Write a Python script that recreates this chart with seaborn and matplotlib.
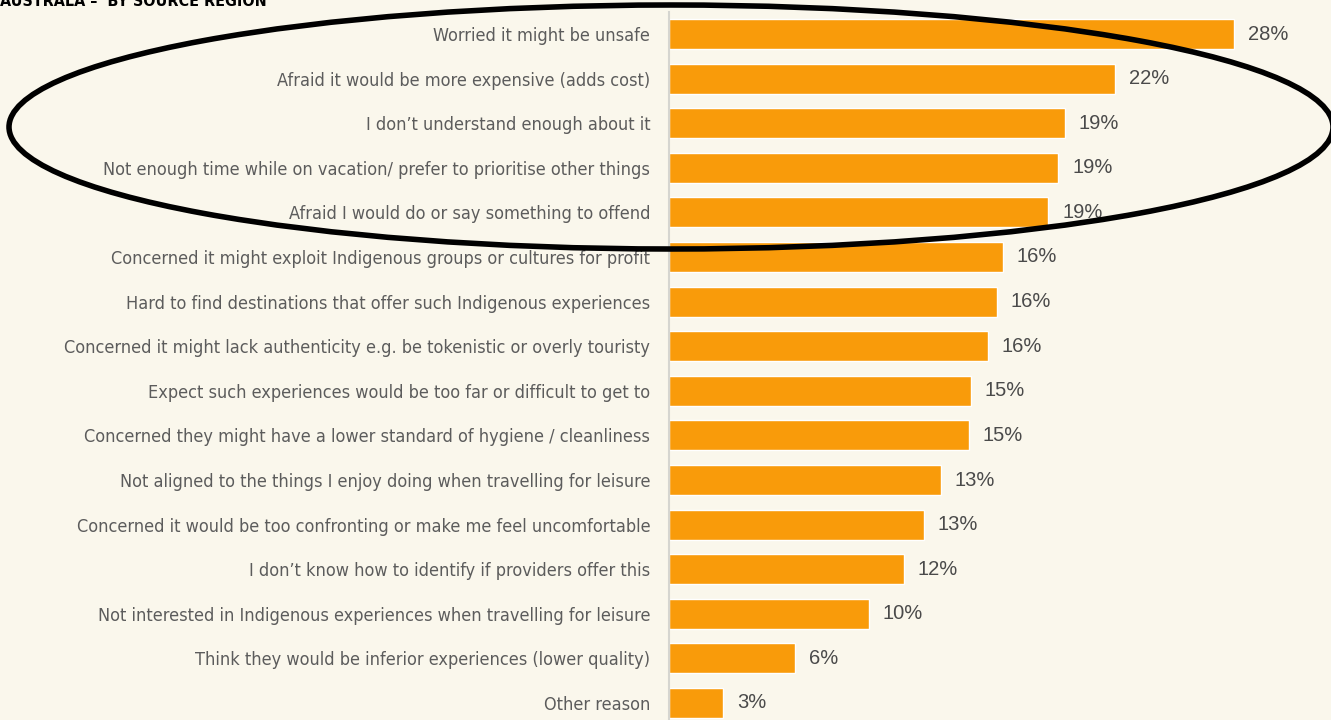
import matplotlib
matplotlib.use("Agg")
import matplotlib.pyplot as plt
import matplotlib.patches as mpatches
from matplotlib import font_manager
from matplotlib.transforms import IdentityTransform
import seaborn as sns
import pandas as pd

categories = [
    "Worried it might be unsafe",
    "Afraid it would be more expensive (adds cost)",
    "I don\u2019t understand enough about it",
    "Not enough time while on vacation/ prefer to prioritise other things",
    "Afraid I would do or say something to offend",
    "Concerned it might exploit Indigenous groups or cultures for profit",
    "Hard to find destinations that offer such Indigenous experiences",
    "Concerned it might lack authenticity e.g. be tokenistic or overly touristy",
    "Expect such experiences would be too far or difficult to get to",
    "Concerned they might have a lower standard of hygiene / cleanliness",
    "Not aligned to the things I enjoy doing when travelling for leisure",
    "Concerned it would be too confronting or make me feel uncomfortable",
    "I don\u2019t know how to identify if providers offer this",
    "Not interested in Indigenous experiences when travelling for leisure",
    "Think they would be inferior experiences (lower quality)",
    "Other reason",
]
values = [28.0, 22.1, 19.6, 19.3, 18.8, 16.55, 16.25, 15.8, 14.97, 14.87,
          13.48, 12.64, 11.65, 9.9, 6.24, 2.68]
value_labels = ["28%", "22%", "19%", "19%", "19%", "16%", "16%", "16%", "15%", "15%",
                "13%", "13%", "12%", "10%", "6%", "3%"]
title_text = "AUSTRALA \u2013  BY SOURCE REGION"

BG = "#FAF7EC"
BAR = "#F99B0A"
TXT = "#5C5C5C"

sns.set_theme(style="white")

# pick a condensed font if one is installed
names = {f.name for f in font_manager.fontManager.ttflist}
cond_files = [f for f in font_manager.fontManager.ttflist
              if f.name == "DejaVu Sans" and "ondensed" in str(f.stretch) + f.fname]
if "Liberation Sans Narrow" in names:
    LBL_FP = dict(family="Liberation Sans Narrow", size=14.5)
elif cond_files:
    LBL_FP = dict(family="DejaVu Sans", stretch="condensed", size=13.0)
else:
    LBL_FP = dict(family="DejaVu Sans", size=12.0)

plt.rcParams["font.family"] = ["DejaVu Sans"]

W, H = 1331, 720
fig = plt.figure(figsize=(W / 100, H / 100), dpi=100, facecolor=BG)

left = 669 / W
top = 1 - 11.7 / H
height = 16 * 44.6 / H
ax = fig.add_axes([left, top - height, 1 - left, height])
ax.set_facecolor(BG)

df = pd.DataFrame({"cat": categories, "val": values})
sns.barplot(data=df, x="val", y="cat", orient="h", color=BAR, width=0.67,
            saturation=1, ax=ax)
ax.set_xlim(0, (W - 669) / 20.18)
ax.set_ylim(15.5, -0.5)
ax.set_xlabel("")
ax.set_ylabel("")
ax.set_xticks([])
for s in ["top", "right", "bottom"]:
    ax.spines[s].set_visible(False)
ax.spines["left"].set_color("#D5D5D0")
ax.spines["left"].set_linewidth(1.5)
ax.tick_params(axis="y", length=0, pad=13.5)
fp = font_manager.FontProperties(**LBL_FP)
for lbl in ax.get_yticklabels():
    lbl.set_fontproperties(fp)
    lbl.set_color(TXT)

ax.bar_label(ax.containers[0], labels=value_labels, padding=10,
             fontsize=14.5, color="#4A4A4A", family=["Liberation Sans", "DejaVu Sans"])

fig.text(0 / W, 1 - 6 / H, title_text, ha="left", va="baseline",
         fontsize=11.5, fontweight="bold", color="black",
         family=["DejaVu Sans"], fontstretch="condensed")

ell = mpatches.Ellipse((671, H - 127), 1324, 244, angle=0,
                       transform=IdentityTransform(), fill=False, lw=4,
                       ec="black", zorder=10)
fig.patches.append(ell)

fig.savefig("out.png", dpi=100, facecolor=BG)
